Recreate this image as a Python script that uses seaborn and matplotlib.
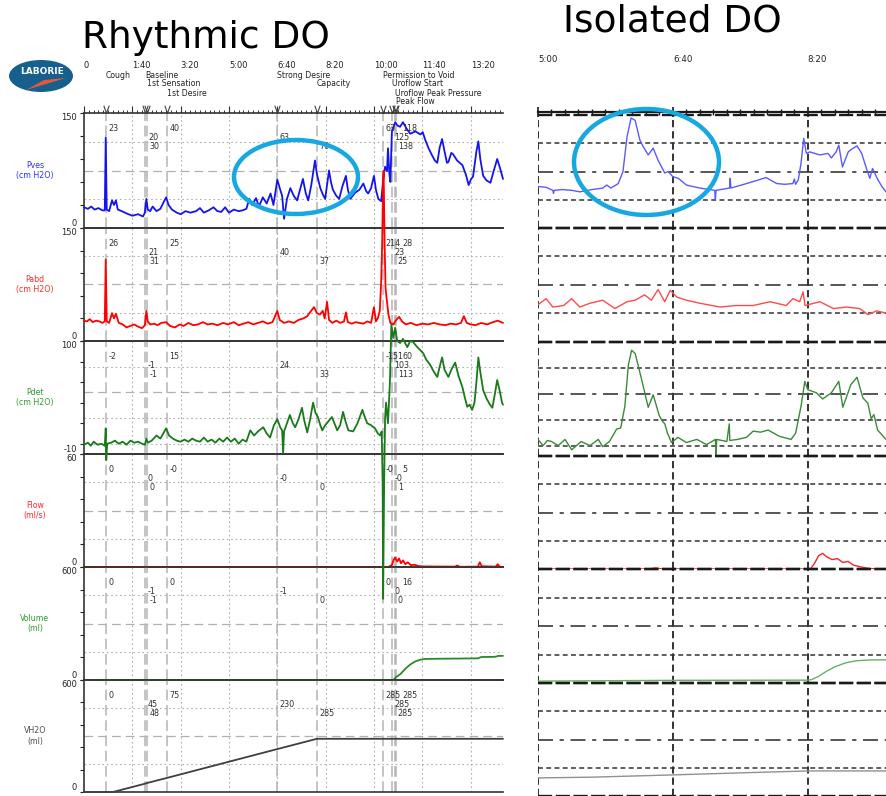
import numpy as np
import matplotlib
matplotlib.use("Agg")
import matplotlib.pyplot as plt
import matplotlib.transforms as mtransforms
from matplotlib.patches import Ellipse, Polygon
from matplotlib.path import Path
from matplotlib.ticker import MultipleLocator
import seaborn as sns

sns.set_theme(style="white")
plt.rcParams["font.family"] = ["DejaVu Sans"]

W, H = 886, 796

# ---------------- channel set-up ----------------
channels = ["Pves", "Pabd", "Pdet", "Flow", "Volume", "VH2O"]
units = ["(cm H2O)", "(cm H2O)", "(cm H2O)", "(ml/s)", "(ml)", "(ml)"]
y_lo = [0, 0, -10, 0, 0, 0]
y_hi = [150, 150, 100, 60, 600, 600]
y_step = [30, 30, 20, 12, 120, 120]

time_ticks = [0, 100, 200, 300, 400, 500, 600, 700, 800]
time_labels = ["0", "1:40", "3:20", "5:00", "6:40", "8:20", "10:00", "11:40", "13:20"]

# ---------------- events ----------------
event_names = ["Cough", "Baseline", "1st Sensation", "1st Desire", "Strong Desire",
               "Capacity", "Permission to Void", "Uroflow Start",
               "Uroflow Peak Pressure", "Peak Flow"]
event_times = [45, 127, 130, 171, 400, 482, 619, 637, 644, 646]
event_rows = [1, 1, 2, 3, 1, 2, 1, 2, 3, 4]
value_rows = [1, 2, 3, 1, 2, 3, 1, 2, 3, 1]

pves_marks = ["23", "20", "30", "40", "63", "70", "63", "125", "138", "118"]
pabd_marks = ["26", "21", "31", "25", "40", "37", "214", "23", "25", "28"]
pdet_marks = ["-2", "-1", "-1", "15", "24", "33", "-151", "103", "113", "60"]
flow_marks = ["0", "0", "0", "-0", "-0", "0", "-0", "-0", "1", "5"]
volume_marks = ["0", "-1", "-1", "0", "-1", "0", "0", "0", "0", "16"]
vh2o_marks = ["0", "45", "48", "75", "230", "285", "285", "285", "285", "285"]

# ---------------- Rhythmic DO traces (time s, value) ----------------
pves_rhythmic = [
    (0, 27), (8, 25), (15, 28), (22, 24), (30, 26), (38, 23), (43, 23), (45, 118), (47, 24),
    (52, 22), (58, 36), (62, 30), (66, 36), (70, 24), (78, 22), (88, 19), (100, 16), (112, 18),
    (122, 15), (126, 20), (129, 38), (132, 24), (137, 22), (142, 28), (150, 22), (158, 25),
    (165, 34), (170, 40), (175, 30), (182, 24), (192, 20), (200, 18), (210, 22), (220, 20),
    (232, 22), (240, 26), (248, 20), (258, 23), (268, 27), (276, 22), (284, 21), (292, 27),
    (300, 20), (310, 24), (320, 22), (328, 23), (336, 25), (342, 38), (348, 30), (356, 39),
    (362, 28), (370, 40), (378, 32), (386, 45), (392, 30), (400, 63), (406, 50), (410, 42),
    (414, 12), (420, 38), (427, 52), (434, 42), (441, 36), (447, 50), (453, 64), (459, 45),
    (464, 36), (470, 55), (478, 88), (482, 70), (489, 52), (494, 44), (499, 38), (507, 75),
    (511, 60), (515, 50), (522, 42), (528, 38), (535, 55), (542, 68), (546, 50), (551, 38),
    (556, 42), (561, 46), (570, 50), (578, 58), (584, 48), (588, 45), (594, 52), (600, 68),
    (604, 50), (609, 38), (615, 35), (619, 63), (623, 80), (627, 74), (629, 104), (632, 70),
    (634, 60), (637, 125), (644, 138), (648, 134), (654, 132), (660, 138), (667, 130),
    (675, 123), (686, 126), (696, 122), (701, 125), (706, 115), (713, 104), (720, 95),
    (726, 88), (731, 85), (736, 105), (741, 116), (746, 100), (751, 85), (754, 86), (760, 98),
    (764, 96), (772, 88), (783, 82), (790, 70), (796, 56), (801, 64), (805, 67), (812, 100),
    (816, 113), (820, 90), (826, 68), (833, 62), (841, 59), (848, 75), (855, 90), (860, 80),
    (867, 64),
]
pabd_rhythmic = [
    (0, 27), (6, 26), (12, 29), (18, 25), (25, 27), (32, 26), (38, 24), (43, 26), (45, 108),
    (47, 26), (52, 24), (58, 37), (62, 30), (66, 36), (72, 24), (80, 22), (88, 18), (96, 20),
    (104, 22), (112, 19), (120, 17), (126, 21), (129, 40), (132, 26), (137, 22), (145, 23),
    (152, 21), (160, 24), (170, 25), (178, 20), (188, 18), (198, 22), (206, 20), (216, 24),
    (226, 21), (236, 22), (246, 25), (256, 22), (266, 23), (276, 21), (288, 24), (298, 22),
    (310, 25), (320, 21), (330, 23), (340, 25), (350, 22), (360, 24), (370, 26), (380, 23),
    (390, 25), (400, 40), (405, 28), (414, 24), (424, 26), (434, 24), (444, 28), (454, 30),
    (462, 33), (470, 40), (476, 45), (482, 37), (488, 35), (494, 40), (498, 30), (503, 52),
    (507, 28), (514, 24), (522, 27), (530, 24), (538, 26), (542, 38), (546, 25), (554, 23),
    (562, 25), (570, 24), (578, 23), (586, 26), (594, 24), (600, 45), (604, 26), (608, 30),
    (612, 40), (615, 80), (617, 130), (619, 214), (620, 226), (622, 130), (624, 70),
    (627, 52), (630, 35), (634, 24), (640, 22), (646, 28), (652, 32), (658, 26), (666, 22),
    (676, 24), (688, 21), (700, 23), (712, 22), (724, 24), (736, 22), (748, 21), (758, 23),
    (770, 22), (780, 24), (786, 33), (792, 24), (800, 22), (810, 21), (822, 24), (834, 22),
    (846, 25), (856, 27), (867, 24),
]
pdet_rhythmic = [
    (0, -1), (8, 1), (14, -2), (20, 2), (28, -1), (36, 0), (43, -2), (45, 15), (46, -16),
    (48, 0), (56, 1), (64, 3), (72, 0), (80, 2), (88, -1), (96, 3), (104, 1), (112, 2),
    (120, 0), (126, -1), (129, 5), (132, 1), (140, 3), (150, 8), (158, 5), (164, 10),
    (170, 15), (176, 8), (184, 5), (192, 3), (200, 2), (208, 4), (216, 2), (224, 5), (232, 3),
    (240, 2), (248, 6), (256, 2), (264, 4), (272, 1), (280, 5), (288, 2), (296, 6), (304, 2),
    (312, 5), (320, 0), (328, 4), (336, 2), (344, 13), (352, 8), (360, 12), (371, 16),
    (378, 10), (385, 6), (393, 18), (400, 24), (406, 16), (410, 13), (412, -9), (414, 12),
    (420, 20), (426, 28), (432, 20), (437, 16), (444, 24), (451, 35), (456, 22), (462, 11),
    (468, 24), (474, 40), (479, 30), (484, 26), (489, 18), (493, 13), (499, 18), (506, 22),
    (513, 26), (518, 20), (524, 13), (530, 18), (536, 31), (541, 22), (547, 13), (557, 12),
    (566, 20), (576, 33), (581, 26), (586, 20), (594, 18), (602, 15), (608, 10), (613, 8),
    (616, 12), (618, -40), (619, -151), (621, -40), (623, 25), (625, 40), (629, 20),
    (633, 60), (636, 116), (640, 103), (644, 113), (648, 100), (654, 98), (660, 102),
    (669, 94), (675, 100), (681, 99), (686, 96), (692, 93), (702, 88), (708, 82), (716, 77),
    (724, 70), (731, 65), (736, 75), (741, 84), (746, 72), (754, 65), (760, 72), (768, 79),
    (775, 66), (783, 55), (788, 45), (793, 36), (798, 38), (803, 33), (808, 40), (812, 60),
    (816, 84), (820, 70), (826, 52), (833, 44), (840, 38), (845, 35), (850, 48), (855, 62),
    (860, 52), (865, 40), (867, 38),
]
flow_rhythmic = [
    (0, 0), (630, 0), (637, 1), (641, 4), (644, 5), (648, 3), (652, 4.5), (656, 2),
    (660, 3.5), (665, 1.5), (670, 2.5), (676, 1), (684, 1.2), (692, 0.5), (700, 0.3),
    (768, 0.2), (772, 0.8), (778, 0.1), (815, 0.2), (819, 2.5), (823, 0.4), (852, 0.2),
    (856, 1.5), (860, 0.2), (867, 0),
]
volume_rhythmic = [
    (0, 0), (640, 0), (646, 16), (655, 32), (665, 60), (675, 82), (685, 98), (695, 107),
    (706, 112), (740, 113), (780, 114), (815, 115), (822, 122), (850, 123), (858, 128),
    (867, 128),
]
vh2o_rhythmic = [
    (0, 0), (60, 0), (127, 45), (130, 48), (171, 75), (400, 230), (482, 285), (867, 285),
]

# ---------------- Isolated DO traces (time s, value) ----------------
iso_time_ticks = [300, 400, 500]
iso_time_labels = ["5:00", "6:40", "8:20"]

pves_isolated = [
    (300, 55), (306, 54), (311, 50), (311.5, 46), (312, 50), (318, 51), (325, 50), (331, 48),
    (340, 51), (348, 53), (351, 57), (354, 53), (359.5, 59), (363, 75), (366, 121), (369, 146),
    (372, 143), (375.5, 117), (378, 108), (381.7, 97), (385.4, 106), (389, 90), (394, 73),
    (396.5, 75), (400, 68), (404, 66), (410, 57), (420, 53), (431, 50), (431.5, 38), (432, 50),
    (442, 53), (442.5, 66), (443, 53), (454.6, 59), (462, 63), (469, 67), (477, 59), (483, 58),
    (489, 59), (490, 65), (491, 58), (493, 64), (495, 86), (497, 119), (499, 99), (501.5, 101),
    (509, 97), (515, 99), (517.5, 93), (521, 101), (523, 110), (525.7, 81), (530, 101),
    (532, 104), (536.5, 109), (540, 99), (543.5, 79), (546, 66), (548, 79), (552, 64),
    (555, 55), (558, 48),
]
pabd_isolated = [
    (300, 49), (306, 57), (311, 46), (319, 48), (325, 57), (331, 46), (338.5, 51), (348, 55),
    (357, 44), (366, 53), (372, 55), (379, 62), (384, 55), (389, 69), (394, 53), (398, 68),
    (403, 59), (410, 55), (420, 51), (435, 46), (447, 48), (459.5, 48), (472, 53), (484, 48),
    (489, 57), (494, 53), (496.5, 66), (498, 48), (509, 53), (519, 44), (528.7, 46),
    (538.5, 44), (544.7, 36), (551, 41), (558, 38),
]
pdet_isolated = [
    (300, 6), (303.7, 0), (307, 5), (310, 4), (315, 0), (320, 6), (325, -4), (332, 4),
    (338.5, 0), (344.7, 6), (348, -1), (353, 4), (358.3, 16), (361.3, 17), (364.4, 38),
    (367, 78), (369.4, 92), (372, 89), (376.8, 64), (381.7, 37), (385.4, 49), (389.9, 29),
    (392, 24), (394, 21), (396, 12), (399, 3), (403.7, 8), (410, 3), (417.8, 6), (425, 1),
    (431.5, 6), (432, -9), (432.5, 6), (440, 4), (441.8, 21), (442.2, 5), (448, 6),
    (454.6, 8), (459.5, 14), (465, 13), (470.6, 15), (479, 9), (487.6, 6), (491, 12),
    (495, 38), (497.8, 62), (500, 54), (506.4, 51), (511, 45), (517.5, 51), (523, 62),
    (526, 37), (532, 59), (536.5, 66), (540.9, 46), (544.5, 41), (547, 26), (549, 30),
    (551.8, 15), (558, 6),
]
flow_isolated = [
    (300, 0), (383, 0), (387, 0.6), (392, 0), (502, 0), (505, 3), (508, 7), (511, 8.3),
    (514, 6.5), (518, 5), (522, 5.5), (526, 3.5), (530, 4), (534, 2), (540, 1), (546, 0.2),
    (558, 0),
]
volume_isolated = [
    (300, 10), (400, 14), (500, 15), (503, 18), (508, 35), (514, 62), (520, 85), (528, 106),
    (536, 117), (545, 121), (558, 122),
]
vh2o_isolated = [
    (300, 96), (340, 100), (400, 112), (460, 125), (500, 133), (558, 133),
]

rhythmic_traces = [pves_rhythmic, pabd_rhythmic, pdet_rhythmic, flow_rhythmic,
                   volume_rhythmic, vh2o_rhythmic]
isolated_traces = [pves_isolated, pabd_isolated, pdet_isolated, flow_isolated,
                   volume_isolated, vh2o_isolated]
channel_marks = [pves_marks, pabd_marks, pdet_marks, flow_marks, volume_marks, vh2o_marks]

label_colors = ["#3030ff", "#ff2a2a", "#2f9e2f", "#ff2a2a", "#2f9e2f", "#505050"]
trace_colors = ["#1414f0", "#ff0000", "#1a7a1a", "#ff0000", "#2a8a2a", "#404040"]
iso_colors = ["#5a5aff", "#ff4a4a", "#3a8a3a", "#ff2020", "#66b066", "#909090"]

# ---------------- layout (pixels) ----------------
fig = plt.figure(figsize=(W / 100, H / 100), dpi=100)


def px_axes(x0, y0, x1, y1):
    return fig.add_axes([x0 / W, 1 - y1 / H, (x1 - x0) / W, (y1 - y0) / H])


def fy(y_px):
    return 1 - y_px / H


left_x0, left_x1 = 84, 503
left_edges = [113, 228, 341, 454, 567, 680, 792]
right_x0, right_x1 = 538, 886
right_edges = [115, 228, 342, 456, 569, 683, 796]

grid_grey = "#b0b0b0"
event_grey = "#b4b4b4"

# ---------------- Rhythmic DO column ----------------
left_axes = []
for i, name in enumerate(channels):
    ax = px_axes(left_x0, left_edges[i], left_x1, left_edges[i + 1])
    ax.set_facecolor("none")
    # the detrusor trace runs over its neighbours, so it sits above them
    ax.set_zorder(3 if name == "Pdet" else 1)
    ax.set_xlim(0, 867)
    ax.set_ylim(y_lo[i], y_hi[i])
    lo, hi, step = y_lo[i], y_hi[i], y_step[i]

    # grid
    for t in time_ticks[1:]:
        ax.axvline(t, color=grid_grey, lw=0.8, dashes=(1.5, 2.5), zorder=1)
    levels = [hi * 0.25, hi * 0.5, hi * 0.75] + ([0] if lo < 0 else [])
    for lv in levels:
        if lv == hi * 0.5:
            ax.axhline(lv, color=grid_grey, lw=0.9, dashes=(7, 4), zorder=1)
        else:
            ax.axhline(lv, color=grid_grey, lw=0.8, dashes=(1.5, 2.5), zorder=1)

    # event lines
    for t in event_times:
        ax.axvline(t, color=event_grey, lw=1.1, dashes=(7, 3), zorder=1.5)

    # trace
    t_vals = [p[0] for p in rhythmic_traces[i]]
    y_vals = [p[1] for p in rhythmic_traces[i]]
    sns.lineplot(x=t_vals, y=y_vals, ax=ax, color=trace_colors[i], lw=1.3,
                 estimator=None, sort=False, clip_on=False, zorder=3)
    ax.set_xlabel("")
    ax.set_ylabel("")

    # y ticks
    ticks = sorted(set([lo] + list(range(0, hi + 1, step))))
    ax.set_yticks(ticks)
    ax.set_yticklabels([str(lo) if v == lo else (str(hi) if v == hi else "") for v in ticks])
    ax.tick_params(axis="y", direction="out", length=3, width=0.8, pad=2, labelsize=6,
                   left=True, colors="#222222")
    labels = ax.get_yticklabels()
    labels[0].set_verticalalignment("bottom")
    labels[-1].set_verticalalignment("top")
    ax.set_xticks([])

    for side in ["top", "bottom", "left"]:
        ax.spines[side].set_visible(True)
        ax.spines[side].set_color("#333333")
        ax.spines[side].set_linewidth(1.2)
    ax.spines["right"].set_visible(False)

    # values at events
    for k, (t, r, txt) in enumerate(zip(event_times, value_rows, channel_marks[i])):
        dx = 4.6 if k == len(event_times) - 1 else 1.8
        ax.annotate(txt, xy=(t, 1), xycoords=("data", "axes fraction"),
                    xytext=(dx, -4.5 - 6.5 * r), textcoords="offset points",
                    fontsize=5.8, color="#333333", ha="left", va="center", zorder=4)

    # channel label
    yc = (left_edges[i] + left_edges[i + 1]) / 2
    fig.text(35 / W, fy(yc), f"{name}\n{units[i]}", ha="center", va="center",
             fontsize=5.7, color=label_colors[i], linespacing=1.15)
    left_axes.append(ax)

# top ruler on the Pves panel
ax0 = left_axes[0]
ax0.xaxis.set_ticks_position("top")
ax0.set_xticks(time_ticks)
ax0.set_xticklabels([])
ax0.xaxis.set_minor_locator(MultipleLocator(10))
ax0.tick_params(axis="x", which="major", direction="out", length=5, width=0.8, top=True,
                colors="#333333")
ax0.tick_params(axis="x", which="minor", direction="out", length=2.5, width=0.7, top=True,
                colors="#333333")

trans_top = mtransforms.blended_transform_factory(ax0.transData, fig.transFigure)
for t, lab in zip(time_ticks, time_labels):
    ax0.text(t, fy(66), lab, transform=trans_top, fontsize=6, ha="left", va="center",
             color="#222222", clip_on=False)
for t, nm, r in zip(event_times, event_names, event_rows):
    ax0.text(t, fy(75 + 9 * (r - 1)), nm, transform=trans_top, fontsize=5.6, ha="left",
             va="center", color="#222222", clip_on=False)

# open "V" flags on the ruler, one per event
v_flag = Path([(-0.7, 1.0), (0.0, -1.0), (0.7, 1.0)],
              [Path.MOVETO, Path.LINETO, Path.LINETO])
ax0.plot(event_times, [fy(108.5)] * len(event_times), transform=trans_top,
         linestyle="none", marker=v_flag, markersize=5.5, markerfacecolor="none",
         markeredgecolor="#444444", markeredgewidth=0.8, clip_on=False)

# ---------------- Isolated DO column ----------------
iso_axes = []
for i, name in enumerate(channels):
    ax = px_axes(right_x0, right_edges[i], right_x1, right_edges[i + 1])
    ax.set_facecolor("none")
    ax.set_xlim(300, 558)
    ax.set_ylim(y_lo[i], y_hi[i])
    hi, lo = y_hi[i], y_lo[i]
    for t in iso_time_ticks:
        ax.axvline(t, color="#222222", lw=1.3, dashes=(4, 2.2), zorder=1)
    levels = [hi * 0.25, hi * 0.5, hi * 0.75] + ([0] if lo < 0 else [])
    for lv in levels:
        if lv == hi * 0.5:
            ax.axhline(lv, color="#3a3a3a", lw=1.2, dashes=(9, 4, 2.5, 4), zorder=1)
        else:
            ax.axhline(lv, color="#333333", lw=1.1, dashes=(3.2, 2.2), zorder=1)
    ax.axhline(hi, color="#1a1a1a", lw=1.7, dashes=(6, 1.5), zorder=1, clip_on=False)
    ax.axhline(lo, color="#1a1a1a", lw=1.7, dashes=(6, 1.5), zorder=1, clip_on=False)

    t_vals = [p[0] for p in isolated_traces[i]]
    y_vals = [p[1] for p in isolated_traces[i]]
    sns.lineplot(x=t_vals, y=y_vals, ax=ax, color=iso_colors[i], lw=1.0,
                 estimator=None, sort=False, zorder=3)
    ax.set_xlabel("")
    ax.set_ylabel("")
    ax.set_xticks([])
    ax.set_yticks([])
    for side in ax.spines:
        ax.spines[side].set_visible(False)
    iso_axes.append(ax)

# ruler above the isolated panels
ruler = px_axes(right_x0, 111.5, right_x1, 112.5)
ruler.set_facecolor("none")
ruler.set_xlim(300, 558)
ruler.set_yticks([])
for side in ["left", "right", "bottom"]:
    ruler.spines[side].set_visible(False)
ruler.spines["top"].set_color("#1a1a1a")
ruler.spines["top"].set_linewidth(1.6)
ruler.xaxis.set_ticks_position("top")
ruler.set_xticks(iso_time_ticks)
ruler.set_xticklabels([])
ruler.xaxis.set_minor_locator(MultipleLocator(10))
ruler.tick_params(axis="x", which="major", direction="inout", length=7, width=1.2,
                  colors="#1a1a1a")
ruler.tick_params(axis="x", which="minor", direction="inout", length=4, width=1.0,
                  colors="#1a1a1a")

trans_iso = mtransforms.blended_transform_factory(ruler.transData, fig.transFigure)
for t, lab in zip(iso_time_ticks, iso_time_labels):
    ruler.text(t, fy(59), lab, transform=trans_iso, fontsize=6.2, ha="left", va="center",
               color="#222222", clip_on=False)

# ---------------- titles, logo, highlight rings ----------------
fig.text(82 / W, fy(48), "Rhythmic DO", fontsize=27, ha="left", va="baseline",
         color="black")
fig.text(563 / W, fy(32), "Isolated DO", fontsize=27, ha="left", va="baseline",
         color="black")

fig.add_artist(Ellipse((41 / W, fy(76)), 64 / W, 32 / H, angle=0,
                       transform=fig.transFigure, facecolor="#17608e", edgecolor="none"))
fig.add_artist(Polygon([(26 / W, fy(90)), (66 / W, fy(78)), (44 / W, fy(80))],
                       closed=True, transform=fig.transFigure, facecolor="#e2583f",
                       edgecolor="none"))
fig.text(42 / W, fy(71), "LABORIE", fontsize=6.5, fontweight="bold", color="white",
         ha="center", va="center")

fig.add_artist(Ellipse((296 / W, fy(177)), 124 / W, 74 / H, transform=fig.transFigure,
                       fill=False, edgecolor="#17a8e2", lw=3.2, zorder=10))
fig.add_artist(Ellipse((646.5 / W, fy(162)), 145 / W, 106 / H, transform=fig.transFigure,
                       fill=False, edgecolor="#17a8e2", lw=3.2, zorder=10))

fig.savefig("out.png", dpi=100)
